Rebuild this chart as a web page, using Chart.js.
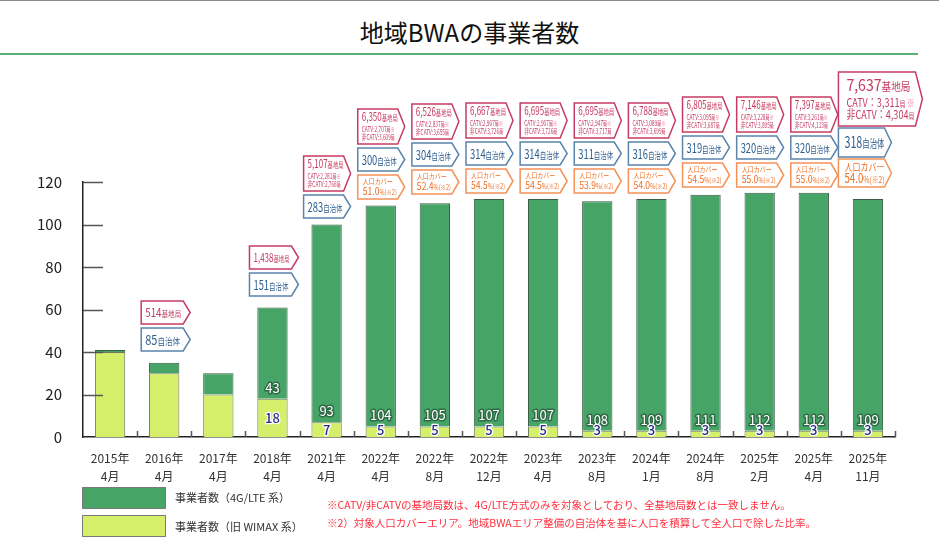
<!DOCTYPE html>
<html lang="ja">
<head>
<meta charset="utf-8">
<title>地域BWAの事業者数</title>
<script src="https://cdn.jsdelivr.net/npm/chart.js@4.4.1/dist/chart.umd.min.js"></script>
<style>
  html, body { margin: 0; padding: 0; background: #fff; }
  body {
    width: 939px; height: 554px; position: relative; overflow: hidden;
    font-family: "Noto Sans CJK JP", "Noto Sans", sans-serif;
  }
  #topline { position: absolute; left: 0; top: 0; width: 939px; height: 1px; background: #8a8a8a; }
  #title {
    position: absolute; left: 0; top: 14px; width: 939px; text-align: center;
    font-size: 24px; line-height: 36px; color: #111;
  }
  #greenline { position: absolute; left: 0; top: 53px; width: 918px; height: 2px; background: #5cb07c; }
  #chart { position: absolute; left: 0; top: 0; }
  .swatch { position: absolute; left: 82px; width: 82px; height: 20px; border: 1px solid #7a7a7a; }
  .legtext { position: absolute; left: 175px; font-size: 11px; color: #333; line-height: 14px; }
  .note { position: absolute; left: 327px; font-size: 10.5px; color: #ff2f3f; line-height: 14px; }
</style>
</head>
<body>
<div id="topline"></div>
<div id="title">地域BWAの事業者数</div>
<div id="greenline"></div>
<canvas id="chart" width="939" height="554"></canvas>

<div class="swatch" style="top:487px; background:#46a466;"></div>
<div class="legtext" style="top:490px;">事業者数（4G/LTE 系）</div>
<div class="swatch" style="top:515px; background:#d5ef6b;"></div>
<div class="legtext" style="top:519px;">事業者数（旧 WIMAX 系）</div>
<div class="note" style="top:498px;">※CATV/非CATVの基地局数は、4G/LTE方式のみを対象としており、全基地局数とは一致しません。</div>
<div class="note" style="top:516px;">※2）対象人口カバーエリア。地域BWAエリア整備の自治体を基に人口を積算して全人口で除した比率。</div>

<script>
const FONT = '"Noto Sans CJK JP", "Noto Sans", sans-serif';

// データ
const categories = [
    ['2015年', '4月'], ['2016年', '4月'], ['2017年', '4月'], ['2018年', '4月'],
    ['2021年', '4月'], ['2022年', '4月'], ['2022年', '8月'], ['2022年', '12月'],
    ['2023年', '4月'], ['2023年', '8月'], ['2024年', '1月'], ['2024年', '8月'],
    ['2025年', '2月'], ['2025年', '4月'], ['2025年', '11月'],
];
const lteCounts = [1, 5, 10, 43, 93, 104, 105, 107, 107, 108, 109, 111, 112, 112, 109];
const wimaxCounts = [40, 30, 20, 18, 7, 5, 5, 5, 5, 3, 3, 3, 3, 3, 3];
const baseStations = [null, 514, null, 1438, 5107, 6350, 6526, 6667, 6695, 6695, 6788, 6805, 7146, 7397, 7637];
const catvStations = [null, null, null, null, 2281, 2707, 2837, 2907, 2907, 2947, 3089, 3095, 3228, 3261, 3311];
const nonCatvStations = [null, null, null, null, 2768, 3609, 3655, 3726, 3726, 3717, 3699, 3687, 3895, 4113, 4304];
const municipalities = [null, 85, null, 151, 283, 300, 304, 314, 314, 311, 316, 319, 320, 320, 318];
const coverageRates = [null, null, null, null, null, 51.0, 52.4, 54.5, 54.5, 53.9, 54.0, 54.5, 55.0, 55.0, 54.0];
const yTicks = [0, 20, 40, 60, 80, 100, 120];

// 吹き出しの上端 (px)
const calloutTop = [null, 301, null, 246, 156, 109, 104, 103, 103, 103, 103, 97, 97, 97, 72];

const RED = '#c63b63', BLUE = '#2f5f90', BLUE_LINE = '#5b84ad', ORANGE = '#f06e22', ORANGE_LINE = '#f39157';
const fmt = n => n.toLocaleString('en-US');

function chevron(ctx, x, y, w, h, color) {
    const tip = 7;
    ctx.beginPath();
    ctx.moveTo(x, y);
    ctx.lineTo(x + w - tip, y);
    ctx.lineTo(x + w, y + h / 2);
    ctx.lineTo(x + w - tip, y + h);
    ctx.lineTo(x, y + h);
    ctx.closePath();
    ctx.fillStyle = '#fff';
    ctx.fill();
    ctx.lineWidth = 1.5;
    ctx.strokeStyle = color;
    ctx.stroke();
}

// 文字列を並べて描く (幅が足りなければ横に圧縮)
function runs(ctx, x, y, parts, maxW) {
    let total = 0;
    parts.forEach(p => {
        ctx.font = `${p.w || 400} ${p.s}px ${FONT}`;
        p.width = ctx.measureText(p.t).width;
        total += p.width;
    });
    const k = Math.min(1, maxW / total);
    ctx.save();
    ctx.translate(x, y);
    ctx.scale(k, 1);
    let cx = 0;
    parts.forEach(p => {
        ctx.font = `${p.w || 400} ${p.s}px ${FONT}`;
        ctx.fillStyle = p.c;
        ctx.fillText(p.t, cx, 0);
        cx += p.width;
    });
    ctx.restore();
}

const axisTicks = {
    id: 'axisTicks',
    afterDatasetsDraw(chart) {
        const { ctx, chartArea: a, scales: { x, y } } = chart;
        ctx.save();
        ctx.strokeStyle = '#555';
        ctx.lineWidth = 1.5;
        yTicks.slice(1).forEach(v => {
            const py = Math.round(y.getPixelForValue(v)) + 0.5;
            ctx.beginPath(); ctx.moveTo(a.left, py); ctx.lineTo(a.left + 20, py); ctx.stroke();
        });
        const half = (a.right - a.left) / categories.length / 2;
        categories.forEach((c, i) => {
            const px = Math.round(x.getPixelForValue(i) + half) + 0.5;
            ctx.beginPath(); ctx.moveTo(px, a.bottom); ctx.lineTo(px, a.bottom - 6); ctx.stroke();
        });
        ctx.restore();
    },
};

const barValues = {
    id: 'barValues',
    afterDatasetsDraw(chart) {
        const { ctx } = chart;
        const wimaxBars = chart.getDatasetMeta(0).data;
        const lteBars = chart.getDatasetMeta(1).data;
        ctx.save();
        ctx.textAlign = 'center';
        ctx.textBaseline = 'middle';
        ctx.lineJoin = 'round';
        for (let i = 3; i < categories.length; i++) {
            const g = lteBars[i];
            ctx.font = `400 13px ${FONT}`;
            ctx.lineWidth = 3;
            ctx.strokeStyle = '#2e6b44';
            ctx.strokeText(String(lteCounts[i]), g.x, g.base - 11);
            ctx.fillStyle = '#fff';
            ctx.fillText(String(lteCounts[i]), g.x, g.base - 11);

            const w = wimaxBars[i];
            const cy = Math.min((w.y + w.base) / 2, w.base - 7);
            ctx.font = `500 13px ${FONT}`;
            ctx.lineWidth = 2.5;
            ctx.strokeStyle = '#fff';
            ctx.strokeText(String(wimaxCounts[i]), w.x, cy);
            ctx.fillStyle = '#2a2a8c';
            ctx.fillText(String(wimaxCounts[i]), w.x, cy);
        }
        ctx.restore();
    },
};

const callouts = {
    id: 'callouts',
    afterDatasetsDraw(chart) {
        const { ctx, scales: { x } } = chart;
        ctx.save();
        ctx.textBaseline = 'alphabetic';
        categories.forEach((c, i) => {
            if (calloutTop[i] == null) return;
            const cx = x.getPixelForValue(i);
            const big = i === categories.length - 1;
            let top = calloutTop[i];

            if (big) {
                const left = cx - 29.5;
                chevron(ctx, left, top, 84, 54, RED);
                runs(ctx, left + 8, top + 19, [
                    { t: fmt(baseStations[i]), s: 16, c: RED },
                    { t: '基地局', s: 11, c: RED },
                ], 64);
                runs(ctx, left + 8, top + 35, [
                    { t: 'CATV：' + fmt(catvStations[i]), s: 12, c: RED },
                    { t: '局 ', s: 8, c: RED },
                    { t: '※', s: 10, c: '#e86a8a' },
                ], 68);
                runs(ctx, left + 8, top + 47, [
                    { t: '非CATV：' + fmt(nonCatvStations[i]), s: 12, c: RED },
                    { t: '局', s: 8, c: RED },
                ], 68);
                top += 56;
                chevron(ctx, left, top, 53, 29, BLUE_LINE);
                runs(ctx, left + 6, top + 20, [
                    { t: String(municipalities[i]), s: 16, c: BLUE },
                    { t: '自治体', s: 11, c: BLUE },
                ], 40);
                top += 31;
                chevron(ctx, left, top, 53, 28, ORANGE_LINE);
                runs(ctx, left + 6, top + 12, [{ t: '人口カバー', s: 10, c: ORANGE }], 40);
                runs(ctx, left + 6, top + 24, [
                    { t: coverageRates[i].toFixed(1), s: 13, c: ORANGE },
                    { t: '%(※2)', s: 9, c: ORANGE },
                ], 40);
                return;
            }

            const left = cx - 23;
            const w = catvStations[i] == null ? 49 : 47;
            if (catvStations[i] == null) {
                chevron(ctx, left, top, w, 23, RED);
                runs(ctx, left + 4, top + 16, [
                    { t: fmt(baseStations[i]), s: 12, c: RED },
                    { t: '基地局', s: 8, c: RED },
                ], 36);
                top += 27;
            } else {
                chevron(ctx, left, top, w, 35, RED);
                runs(ctx, left + 4, top + 12, [
                    { t: fmt(baseStations[i]), s: 12, c: RED },
                    { t: '基地局', s: 8, c: RED },
                ], 36);
                runs(ctx, left + 4, top + 22.5, [
                    { t: 'CATV:' + fmt(catvStations[i]), s: 8, c: RED },
                    { t: '局', s: 6.5, c: RED },
                    { t: '※', s: 7, c: '#e86a8a' },
                ], 33);
                runs(ctx, left + 4, top + 31, [
                    { t: '非CATV:' + fmt(nonCatvStations[i]), s: 8, c: RED },
                    { t: '局', s: 6.5, c: RED },
                ], 33);
                top += 39;
            }
            chevron(ctx, left, top, w, 23, BLUE_LINE);
            runs(ctx, left + 4, top + 16.5, [
                { t: String(municipalities[i]), s: 13, c: BLUE },
                { t: '自治体', s: 9, c: BLUE },
            ], 35);
            top += 27;
            if (coverageRates[i] != null) {
                chevron(ctx, left, top, w, 24, ORANGE_LINE);
                runs(ctx, left + 5, top + 9, [{ t: '人口カバー', s: 7, c: ORANGE }], 30);
                runs(ctx, left + 5, top + 20, [
                    { t: coverageRates[i].toFixed(1), s: 11, c: ORANGE },
                    { t: '%(※2)', s: 7, c: ORANGE },
                ], 34);
            }
        });
        ctx.restore();
    },
};

new Chart(document.getElementById('chart'), {
    type: 'bar',
    data: {
        labels: categories,
        datasets: [
            {
                label: '事業者数（旧 WIMAX 系）',
                data: wimaxCounts,
                backgroundColor: '#d5ef6b',
                borderColor: '#6b7a5c',
                borderWidth: 1,
                barPercentage: 0.56,
                categoryPercentage: 1,
            },
            {
                label: '事業者数（4G/LTE 系）',
                data: lteCounts,
                backgroundColor: '#46a466',
                borderColor: '#3c5e46',
                borderWidth: 1,
                barPercentage: 0.56,
                categoryPercentage: 1,
            },
        ],
    },
    options: {
        responsive: false,
        animation: false,
        layout: { padding: { top: 182, right: 44, bottom: 0, left: 0 } },
        plugins: { legend: { display: false }, tooltip: { enabled: false } },
        scales: {
            x: {
                stacked: true,
                grid: { display: false },
                border: { color: '#222', width: 1.5 },
                ticks: {
                    color: '#333', padding: 4, autoSkip: false, maxRotation: 0,
                    font: { family: FONT, size: 12, lineHeight: 1.5 },
                },
                afterFit: s => { s.height = 117; },
            },
            y: {
                stacked: true,
                min: 0,
                max: 120,
                grid: { display: false },
                border: { color: '#222', width: 1.5 },
                ticks: {
                    stepSize: 20, color: '#222', padding: 13,
                    font: { family: FONT, size: 15 },
                },
                afterFit: s => { s.width = 83; },
            },
        },
    },
    plugins: [axisTicks, barValues, callouts],
});
</script>
</body>
</html>
